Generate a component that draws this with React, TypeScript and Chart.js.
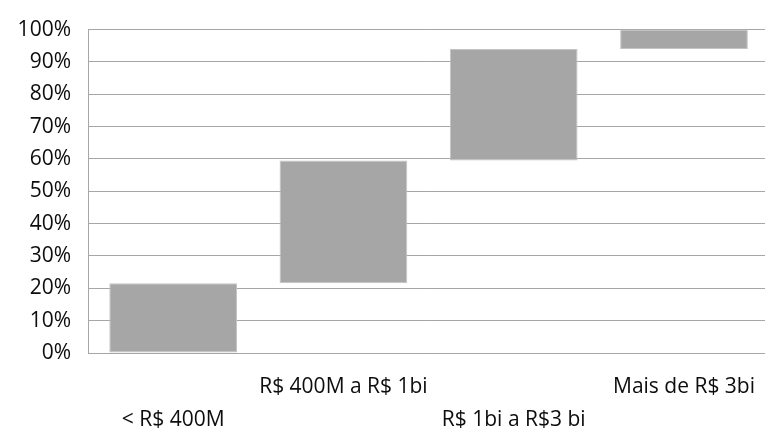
import React, { useEffect, useRef } from "react";
import { Chart, registerables } from "chart.js";

Chart.register(...registerables);

const categories: string[][] = [
  ["", "< R$ 400M"],
  ["R$ 400M a R$ 1bi", ""],
  ["", "R$ 1bi a R$3 bi"],
  ["Mais de R$ 3bi", ""],
];
const barStarts: number[] = [0, 21.6, 59.5, 94];
const barEnds: number[] = [21.6, 59.5, 94, 100];
const yTicks: number[] = [0, 10, 20, 30, 40, 50, 60, 70, 80, 90, 100];

const FONT = "'Open Sans', 'Noto Sans', sans-serif";

export default function App() {
  const ref = useRef<HTMLCanvasElement | null>(null);

  useEffect(() => {
    if (!ref.current) return;
    const chart = new Chart(ref.current, {
      type: "bar",
      data: {
        labels: categories,
        datasets: [
          {
            data: barStarts.map((s, i) => [s, barEnds[i]]) as any,
            backgroundColor: "#A6A6A6",
            borderColor: "#C4C4C4",
            borderWidth: 1,
            borderSkipped: false,
            barPercentage: 0.75,
            categoryPercentage: 1,
          },
        ],
      },
      options: {
        responsive: false,
        animation: false,
        devicePixelRatio: 1,
        layout: { padding: { top: 26, left: 0, right: 0, bottom: 0 } },
        plugins: {
          legend: { display: false },
          tooltip: { enabled: false },
        },
        scales: {
          x: {
            grid: { display: false, drawTicks: false },
            border: { display: false },
            ticks: {
              autoSkip: false,
              maxRotation: 0,
              minRotation: 0,
              padding: 17,
              color: "#0d0d0d",
              font: { family: FONT, size: 21, lineHeight: 1.58 },
            },
            afterFit: (scale: any) => {
              scale.height = 82;
            },
          },
          y: {
            min: 0,
            max: 100,
            afterBuildTicks: (scale: any) => {
              scale.ticks = yTicks.map((v) => ({ value: v }));
            },
            grid: { color: "#A6A6A6", lineWidth: 1, drawTicks: false },
            border: { display: true, color: "#A6A6A6", width: 1 },
            ticks: {
              padding: 17,
              color: "#0d0d0d",
              font: { family: FONT, size: 21 },
              callback: (v: any) => `${v}%`,
            },
            afterFit: (scale: any) => {
              scale.width = 88;
            },
          },
        },
      },
    });
    return () => chart.destroy();
  }, []);

  return (
    <div
      style={{
        position: "fixed",
        left: 0,
        top: 0,
        width: 765,
        height: 435,
        overflow: "hidden",
        background: "#fff",
      }}
    >
      <canvas ref={ref} width={772} height={435} style={{ display: "block" }} />
    </div>
  );
}
